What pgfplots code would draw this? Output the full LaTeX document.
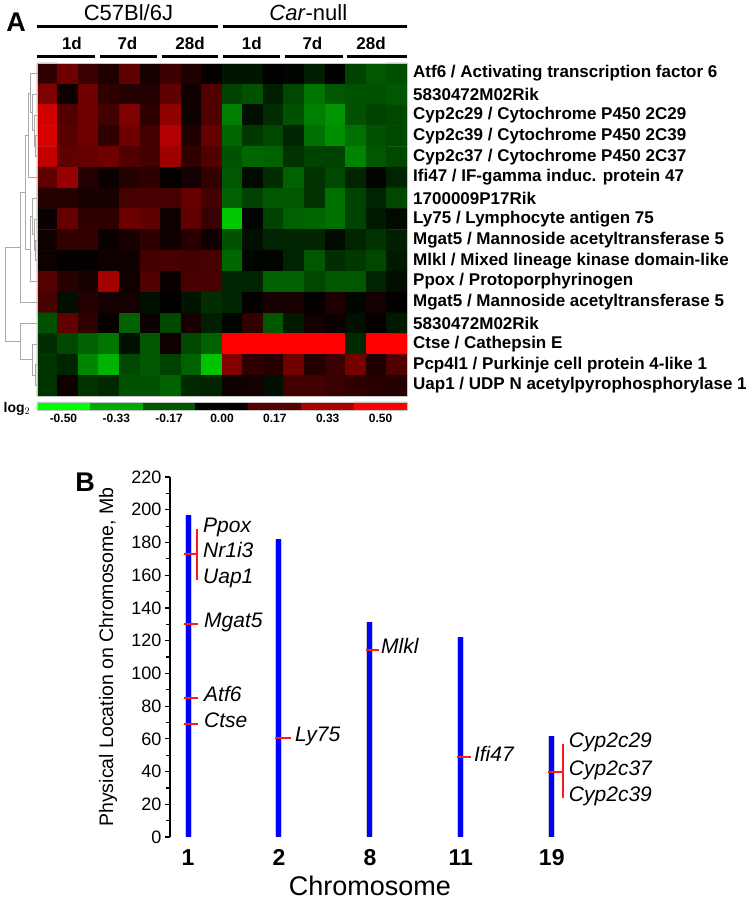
\documentclass[border=0pt]{standalone}
\usepackage{fontspec}
\setmainfont{Liberation Sans}
\usepackage{pgfplots}
\pgfplotsset{compat=1.18}
\newcommand{\fs}[1]{\fontsize{#1}{#1}\selectfont}
\definecolor{dendro}{RGB}{170,170,170}
\definecolor{chrblue}{RGB}{0,0,255}
\definecolor{chrred}{RGB}{255,25,25}
\tikzset{gene/.style={font=\itshape\fs{21}, anchor=west, inner sep=0pt, text height=0.72em, text depth=0pt}}

\begin{document}
\begin{tikzpicture}
\path[use as bounding box] (0pt,0pt) rectangle (750pt,-900pt);

% ---------------- panel A: heat map ----------------
\begin{axis}[
  at={(37pt,-63pt)}, anchor=north west,
  width=370pt, height=333pt, scale only axis,
  xmin=-0.5, xmax=17.5, ymin=0.5, ymax=16.5, y dir=reverse,
  enlargelimits=false, clip=false, axis on top,
  axis line style={draw=gray!45, line width=0.6pt},
  xtick=\empty, ytick={1,...,16}, major tick length=0pt,
  yticklabel pos=right,
  yticklabels={Atf6 / Activating transcription factor 6,
    5830472M02Rik,
    Cyp2c29 / Cytochrome P450 2C29,
    Cyp2c39 / Cytochrome P450 2C39,
    Cyp2c37 / Cytochrome P450 2C37,
    Ifi47 / IF-gamma induc. protein 47,
    1700009P17Rik,
    Ly75 / Lymphocyte antigen 75,
    Mgat5 / Mannoside acetyltransferase 5,
    Mlkl / Mixed lineage kinase domain-like,
    Ppox / Protoporphyrinogen,
    Mgat5 / Mannoside acetyltransferase 5,
    5830472M02Rik,
    Ctse / Cathepsin E,
    Pcp4l1 / Purkinje cell protein 4-like 1,
    Uap1 / UDP N acetylpyrophosphorylase 1},
  yticklabel style={font=\bfseries\fs{17}, anchor=west, inner xsep=0pt, xshift=6pt},
  colormap={rg}{rgb255=(0,255,0) rgb255=(0,0,0) rgb255=(255,0,0)},
  point meta min=-0.5, point meta max=0.5,
]
\addplot[matrix plot*, mesh/cols=18, point meta=explicit] coordinates {
(0,1)[0.09] (1,1)[0.22] (2,1)[0.12] (3,1)[0.06] (4,1)[0.19] (5,1)[0.05] (6,1)[0.12] (7,1)[0.06] (8,1)[0.01] (9,1)[-0.04] (10,1)[-0.04] (11,1)[0.00] (12,1)[-0.01] (13,1)[-0.06] (14,1)[0.00] (15,1)[-0.13] (16,1)[-0.17] (17,1)[-0.15]
(0,2)[0.25] (1,2)[0.03] (2,2)[0.22] (3,2)[0.09] (4,2)[0.07] (5,2)[0.07] (6,2)[0.19] (7,2)[0.03] (8,2)[0.16] (9,2)[-0.13] (10,2)[-0.16] (11,2)[-0.06] (12,2)[-0.14] (13,2)[-0.23] (14,2)[-0.17] (15,2)[-0.16] (16,2)[-0.16] (17,2)[-0.17]
(0,3)[0.41] (1,3)[0.16] (2,3)[0.22] (3,3)[0.13] (4,3)[0.25] (5,3)[0.09] (6,3)[0.28] (7,3)[0.03] (8,3)[0.16] (9,3)[-0.25] (10,3)[-0.03] (11,3)[-0.09] (12,3)[-0.16] (13,3)[-0.25] (14,3)[-0.29] (15,3)[-0.16] (16,3)[-0.13] (17,3)[-0.14]
(0,4)[0.42] (1,4)[0.17] (2,4)[0.22] (3,4)[0.09] (4,4)[0.22] (5,4)[0.13] (6,4)[0.35] (7,4)[0.06] (8,4)[0.20] (9,4)[-0.20] (10,4)[-0.11] (11,4)[-0.14] (12,4)[-0.07] (13,4)[-0.22] (14,4)[-0.28] (15,4)[-0.22] (16,4)[-0.16] (17,4)[-0.14]
(0,5)[0.38] (1,5)[0.19] (2,5)[0.20] (3,5)[0.22] (4,5)[0.16] (5,5)[0.13] (6,5)[0.31] (7,5)[0.09] (8,5)[0.16] (9,5)[-0.16] (10,5)[-0.20] (11,5)[-0.19] (12,5)[-0.10] (13,5)[-0.13] (14,5)[-0.13] (15,5)[-0.26] (16,5)[-0.17] (17,5)[-0.14]
(0,6)[0.19] (1,6)[0.30] (2,6)[0.07] (3,6)[0.02] (4,6)[0.07] (5,6)[0.09] (6,6)[0.01] (7,6)[0.04] (8,6)[0.10] (9,6)[-0.17] (10,6)[-0.02] (11,6)[-0.09] (12,6)[-0.19] (13,6)[-0.10] (14,6)[-0.14] (15,6)[-0.07] (16,6)[-0.01] (17,6)[-0.07]
(0,7)[0.07] (1,7)[0.07] (2,7)[0.05] (3,7)[0.05] (4,7)[0.14] (5,7)[0.14] (6,7)[0.14] (7,7)[0.20] (8,7)[0.13] (9,7)[-0.19] (10,7)[-0.13] (11,7)[-0.17] (12,7)[-0.17] (13,7)[-0.10] (14,7)[-0.22] (15,7)[-0.13] (16,7)[-0.07] (17,7)[-0.14]
(0,8)[0.02] (1,8)[0.20] (2,8)[0.09] (3,8)[0.09] (4,8)[0.21] (5,8)[0.19] (6,8)[0.03] (7,8)[0.19] (8,8)[0.11] (9,8)[-0.39] (10,8)[-0.01] (11,8)[-0.13] (12,8)[-0.19] (13,8)[-0.20] (14,8)[-0.22] (15,8)[-0.13] (16,8)[-0.05] (17,8)[-0.02]
(0,9)[0.03] (1,9)[0.10] (2,9)[0.10] (3,9)[0.02] (4,9)[0.05] (5,9)[0.09] (6,9)[0.03] (7,9)[0.08] (8,9)[0.03] (9,9)[-0.16] (10,9)[-0.03] (11,9)[-0.07] (12,9)[-0.07] (13,9)[-0.07] (14,9)[-0.02] (15,9)[-0.07] (16,9)[-0.10] (17,9)[-0.06]
(0,10)[0.03] (1,10)[0.01] (2,10)[0.01] (3,10)[0.03] (4,10)[0.03] (5,10)[0.13] (6,10)[0.14] (7,10)[0.13] (8,10)[0.14] (9,10)[-0.20] (10,10)[-0.01] (11,10)[-0.01] (12,10)[-0.07] (13,10)[-0.17] (14,10)[-0.09] (15,10)[-0.11] (16,10)[-0.14] (17,10)[-0.05]
(0,11)[0.17] (1,11)[0.08] (2,11)[0.05] (3,11)[0.32] (4,11)[0.03] (5,11)[0.16] (6,11)[0.02] (7,11)[0.14] (8,11)[0.14] (9,11)[-0.07] (10,11)[-0.07] (11,11)[-0.19] (12,11)[-0.19] (13,11)[-0.14] (14,11)[-0.17] (15,11)[-0.17] (16,11)[-0.07] (17,11)[-0.03]
(0,12)[0.14] (1,12)[-0.03] (2,12)[0.07] (3,12)[0.04] (4,12)[0.04] (5,12)[-0.03] (6,12)[0.00] (7,12)[-0.04] (8,12)[-0.09] (9,12)[-0.07] (10,12)[0.01] (11,12)[0.05] (12,12)[0.05] (13,12)[0.01] (14,12)[0.06] (15,12)[-0.01] (16,12)[0.04] (17,12)[0.00]
(0,13)[-0.16] (1,13)[0.19] (2,13)[0.09] (3,13)[0.01] (4,13)[-0.19] (5,13)[0.02] (6,13)[-0.14] (7,13)[0.05] (8,13)[-0.06] (9,13)[-0.01] (10,13)[0.10] (11,13)[-0.17] (12,13)[-0.05] (13,13)[0.04] (14,13)[0.02] (15,13)[-0.03] (16,13)[0.01] (17,13)[-0.05]
(0,14)[-0.09] (1,14)[-0.14] (2,14)[-0.19] (3,14)[-0.23] (4,14)[-0.03] (5,14)[-0.17] (6,14)[0.03] (7,14)[-0.14] (8,14)[-0.19] (9,14)[0.50] (10,14)[0.50] (11,14)[0.50] (12,14)[0.50] (13,14)[0.50] (14,14)[0.50] (15,14)[-0.08] (16,14)[0.50] (17,14)[0.50]
(0,15)[-0.10] (1,15)[-0.07] (2,15)[-0.26] (3,15)[-0.35] (4,15)[-0.14] (5,15)[-0.17] (6,15)[-0.13] (7,15)[-0.19] (8,15)[-0.38] (9,15)[0.26] (10,15)[0.09] (11,15)[0.07] (12,15)[0.22] (13,15)[0.07] (14,15)[0.11] (15,15)[0.23] (16,15)[0.06] (17,15)[0.16]
(0,16)[-0.10] (1,16)[0.03] (2,16)[-0.10] (3,16)[-0.08] (4,16)[-0.16] (5,16)[-0.16] (6,16)[-0.19] (7,16)[-0.08] (8,16)[-0.07] (9,16)[0.03] (10,16)[0.04] (11,16)[-0.03] (12,16)[0.13] (13,16)[0.13] (14,16)[0.11] (15,16)[0.09] (16,16)[0.08] (17,16)[0.07]
};

% dendrogram (gray brackets at the left)
\addplot[dendro, line width=0.8pt] coordinates {(-0.5,4) (-0.60,4) (-0.60,5) (-0.5,5)};
\addplot[dendro, line width=0.8pt] coordinates {(-0.5,3) (-0.65,3) (-0.65,4.5) (-0.60,4.5)};
\addplot[dendro, line width=0.8pt] coordinates {(-0.5,2) (-0.70,2) (-0.70,3.75) (-0.65,3.75)};
\addplot[dendro, line width=0.8pt] coordinates {(-0.5,1) (-0.84,1) (-0.84,2.875) (-0.70,2.875)};
\addplot[dendro, line width=0.8pt] coordinates {(-0.84,1.94) (-0.94,1.94) (-0.94,6) (-0.5,6)};
\addplot[dendro, line width=0.8pt] coordinates {(-0.5,9) (-0.60,9) (-0.60,10) (-0.5,10)};
\addplot[dendro, line width=0.8pt] coordinates {(-0.5,8) (-0.65,8) (-0.65,9.5) (-0.60,9.5)};
\addplot[dendro, line width=0.8pt] coordinates {(-0.5,7) (-0.74,7) (-0.74,8.75) (-0.65,8.75)};
\addplot[dendro, line width=0.8pt] coordinates {(-0.74,7.875) (-0.84,7.875) (-0.84,11) (-0.5,11)};
\addplot[dendro, line width=0.8pt] coordinates {(-0.94,3.97) (-1.08,3.97) (-1.08,9.44) (-0.84,9.44)};
\addplot[dendro, line width=0.8pt] coordinates {(-1.08,6.7) (-1.33,6.7) (-1.33,12) (-0.5,12)};
\addplot[dendro, line width=0.8pt] coordinates {(-0.5,15) (-0.60,15) (-0.60,16) (-0.5,16)};
\addplot[dendro, line width=0.8pt] coordinates {(-0.5,14) (-0.70,14) (-0.70,15.5) (-0.60,15.5)};
\addplot[dendro, line width=0.8pt] coordinates {(-0.5,13) (-1.33,13) (-1.33,14.75) (-0.70,14.75)};
\addplot[dendro, line width=0.8pt] coordinates {(-1.33,9.35) (-2.06,9.35) (-2.06,13.875) (-1.33,13.875)};

% group header bars
\addplot[black, line width=3pt] coordinates {(-0.5,-1.245) (8.30,-1.245)};
\addplot[black, line width=3pt] coordinates {(8.55,-1.245) (17.5,-1.245)};
\addplot[black, line width=3pt] coordinates {(-0.5,0.2) (2.32,0.2)};
\addplot[black, line width=3pt] coordinates {(2.56,0.2) (5.34,0.2)};
\addplot[black, line width=3pt] coordinates {(5.58,0.2) (8.30,0.2)};
\addplot[black, line width=3pt] coordinates {(8.55,0.2) (11.32,0.2)};
\addplot[black, line width=3pt] coordinates {(11.56,0.2) (14.38,0.2)};
\addplot[black, line width=3pt] coordinates {(14.58,0.2) (17.5,0.2)};

\node[font=\fs{22}] at (axis cs:3.95,-1.9) {C57Bl/6J};
\node[font=\fs{22}] at (axis cs:12.7,-1.9) {\textit{Car}-null};
\node[font=\bfseries\fs{17}] at (axis cs:1.2,-0.44) {1d};
\node[font=\bfseries\fs{17}] at (axis cs:3.9,-0.44) {7d};
\node[font=\bfseries\fs{17}] at (axis cs:6.95,-0.44) {28d};
\node[font=\bfseries\fs{17}] at (axis cs:9.95,-0.44) {1d};
\node[font=\bfseries\fs{17}] at (axis cs:12.9,-0.44) {7d};
\node[font=\bfseries\fs{17}] at (axis cs:15.75,-0.44) {28d};
\node[font=\bfseries\fs{27}] at (axis cs:-1.52,-1.47) {A};
\end{axis}

% ---------------- colour key ----------------
\begin{axis}[
  at={(37pt,-402pt)}, anchor=north west,
  width=370pt, height=8pt, scale only axis,
  xmin=-0.5, xmax=6.5, ymin=-0.5, ymax=1.5,
  enlargelimits=false, clip=false, axis on top,
  axis line style={draw=gray!45, line width=0.6pt},
  ytick=\empty, xtick={0,...,6}, major tick length=0pt,
  xticklabels={-0.50,-0.33,-0.17,0.00,0.17,0.33,0.50},
  xticklabel style={font=\bfseries\fs{12}, inner ysep=0pt, yshift=-4pt},
  colormap={rg}{rgb255=(0,255,0) rgb255=(0,0,0) rgb255=(255,0,0)},
  point meta min=-0.5, point meta max=0.5,
]
\addplot[matrix plot*, mesh/cols=7, point meta=explicit] coordinates {
(0,0)[-0.5] (1,0)[-0.3333] (2,0)[-0.1667] (3,0)[0] (4,0)[0.1667] (5,0)[0.3333] (6,0)[0.5]
(0,1)[-0.5] (1,1)[-0.3333] (2,1)[-0.1667] (3,1)[0] (4,1)[0.1667] (5,1)[0.3333] (6,1)[0.5]
};
\node[font=\bfseries\fs{14}] at (axis cs:-0.88,0.5) [yshift=-3pt] {log$_2$};
\end{axis}

% ---------------- panel B: chromosome map ----------------
\begin{axis}[
  at={(170pt,-837pt)}, anchor=south west,
  width=480pt, height=360pt, scale only axis,
  xmin=0.802, xmax=6.08, ymin=0, ymax=220,
  clip=false,
  axis y line*=left, axis x line*=bottom,
  x axis line style={draw=none},
  y axis line style={-, line width=1.6pt},
  xtick={1,2,3,4,5}, xticklabels={1,2,8,11,19},
  xtick style={draw=none},
  xticklabel style={font=\bfseries\fs{23}, yshift=-4pt},
  ytick={0,20,...,220}, minor ytick={10,30,...,210},
  tick align=outside,
  major tick length=5pt, minor tick length=4pt,
  every tick/.style={black, line width=1.2pt},
  yticklabel style={font=\fs{18}},
  /pgf/number format/assume math mode=true,
  ylabel={Physical Location on Chromosome, Mb},
  ylabel style={font=\fs{19.5}, at={(axis description cs:-0.129,0.5)}, anchor=center},
]
% chromosomes
\addplot[gray!40, line width=7pt] coordinates {(1,0) (1,197)};
\addplot[chrblue, line width=5pt] coordinates {(1,0) (1,197)};
\addplot[gray!40, line width=7pt] coordinates {(2,0) (2,182)};
\addplot[chrblue, line width=5pt] coordinates {(2,0) (2,182)};
\addplot[gray!40, line width=7pt] coordinates {(3,0) (3,131.5)};
\addplot[chrblue, line width=5pt] coordinates {(3,0) (3,131.5)};
\addplot[gray!40, line width=7pt] coordinates {(4,0) (4,122)};
\addplot[chrblue, line width=5pt] coordinates {(4,0) (4,122)};
\addplot[gray!40, line width=7pt] coordinates {(5,0) (5,61.5)};
\addplot[chrblue, line width=5pt] coordinates {(5,0) (5,61.5)};

% gene positions
\addplot[chrred, line width=2pt] coordinates {(0.956,173) (1.099,173)};
\addplot[chrred, line width=1.6pt] coordinates {(1.099,157) (1.099,188)};
\addplot[chrred, line width=2pt] coordinates {(0.956,130) (1.11,130)};
\addplot[chrred, line width=2pt] coordinates {(0.956,85) (1.11,85)};
\addplot[chrred, line width=2pt] coordinates {(0.956,69) (1.11,69)};
\addplot[chrred, line width=2pt] coordinates {(1.956,60.5) (2.13,60.5)};
\addplot[chrred, line width=2pt] coordinates {(2.956,114.5) (3.10,114.5)};
\addplot[chrred, line width=2pt] coordinates {(3.956,49) (4.11,49)};
\addplot[chrred, line width=2pt] coordinates {(4.956,40) (5.121,40)};
\addplot[chrred, line width=1.6pt] coordinates {(5.121,24) (5.121,57)};

\node[gene] at (axis cs:1.165,188) {Ppox};
\node[gene] at (axis cs:1.165,173) {Nr1i3};
\node[gene] at (axis cs:1.165,157) {Uap1};
\node[gene] at (axis cs:1.176,130) {Mgat5};
\node[gene] at (axis cs:1.176,85) {Atf6};
\node[gene] at (axis cs:1.176,69) {Ctse};
\node[gene] at (axis cs:2.176,60.5) {Ly75};
\node[gene] at (axis cs:3.121,114.5) {Mlkl};
\node[gene] at (axis cs:4.143,48.5) {Ifi47};
\node[gene] at (axis cs:5.187,57) {Cyp2c29};
\node[gene] at (axis cs:5.187,40) {Cyp2c37};
\node[gene] at (axis cs:5.187,24) {Cyp2c39};

\node[font=\fs{27}] at (axis cs:3,0) [yshift=-49pt] {Chromosome};
\node[font=\bfseries\fs{27}] at (axis description cs:-0.177,0.986) {B};
\end{axis}
\end{tikzpicture}
\end{document}
